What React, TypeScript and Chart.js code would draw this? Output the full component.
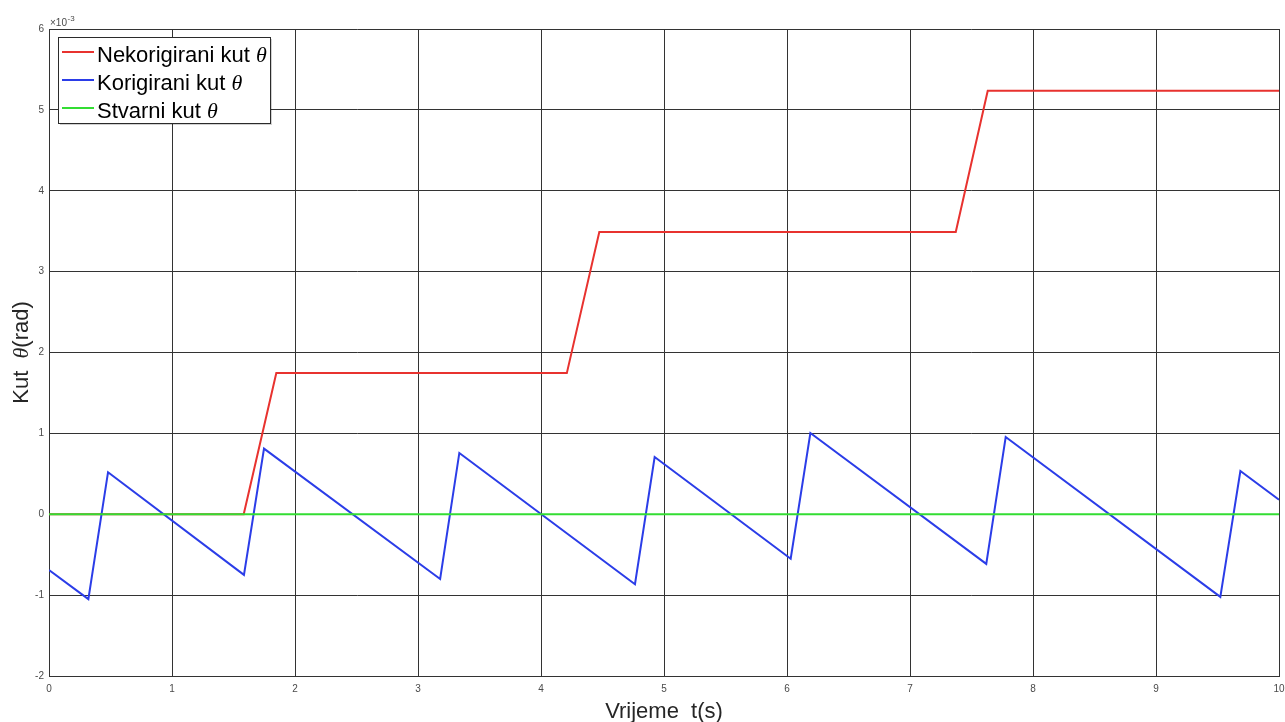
import React, { useEffect, useRef } from 'react';
import { Chart, registerables } from 'chart.js';

Chart.register(...registerables);

// Values in units of 10^-3 rad
const redT = [0, 1.583, 1.848, 4.21, 4.474, 7.372, 7.632, 10];
const redV = [0, 0, 1.745, 1.745, 3.49, 3.49, 5.236, 5.236];
const blueT = [0, 0.32, 0.48, 1.585, 1.748, 3.18, 3.336, 4.764, 4.924, 6.03, 6.19, 7.62, 7.778, 9.523, 9.686, 10];
const blueV = [-0.69, -1.05, 0.52, -0.75, 0.812, -0.8, 0.758, -0.865, 0.708, -0.55, 1.005, -0.614, 0.955, -1.022, 0.535, 0.18];
const greenT = [0, 10];
const greenV = [0, 0];

const xTicks = [0, 1, 2, 3, 4, 5, 6, 7, 8, 9, 10];
const yTicks = [-2, -1, 0, 1, 2, 3, 4, 5, 6];

const seriesNames = ['Nekorigirani kut ', 'Korigirani kut ', 'Stvarni kut '];
const seriesColors = ['#e8322f', '#2b3de8', '#33dd33'];

const SANS = '"Liberation Sans", Arial, Helvetica, sans-serif';
const SERIF = '"Liberation Serif", "Times New Roman", serif';

const toPts = (t: number[], v: number[]) => t.map((x, i) => ({ x, y: v[i] }));

const decorPlugin = {
  id: 'decor',
  afterDraw(chart: any) {
    const ctx = chart.ctx as CanvasRenderingContext2D;
    const area = chart.chartArea;
    ctx.save();
    // exponent label
    ctx.fillStyle = '#4a4a4a';
    ctx.textBaseline = 'alphabetic';
    ctx.textAlign = 'left';
    ctx.font = `10px ${SANS}`;
    ctx.fillText('\u00d710', area.left + 1, area.top - 3);
    const w10 = ctx.measureText('\u00d710').width;
    ctx.font = `8px ${SANS}`;
    ctx.fillText('-3', area.left + 1 + w10 + 0.5, area.top - 8);

    // legend
    const lx = 58, ly = 37, lw = 212, lh = 86;
    ctx.fillStyle = 'rgba(0,0,0,0.18)';
    ctx.fillRect(lx + 2, ly + 2, lw, lh);
    ctx.fillStyle = '#ffffff';
    ctx.fillRect(lx, ly, lw, lh);
    ctx.strokeStyle = '#2b2b2b';
    ctx.lineWidth = 1;
    ctx.strokeRect(lx + 0.5, ly + 0.5, lw, lh);
    const lineYs = [52, 80, 108];
    seriesNames.forEach((name, i) => {
      const y = lineYs[i];
      ctx.strokeStyle = seriesColors[i];
      ctx.lineWidth = 2;
      ctx.beginPath();
      ctx.moveTo(62, y);
      ctx.lineTo(94, y);
      ctx.stroke();
      ctx.fillStyle = '#000000';
      ctx.font = `22px ${SANS}`;
      const base = y + 9.5;
      ctx.fillText(name, 97, base);
      const wn = ctx.measureText(name).width;
      ctx.font = `italic 22px ${SERIF}`;
      ctx.fillText('\u03b8', 97 + wn, base);
    });

    // x title
    ctx.fillStyle = '#262626';
    ctx.font = `22px ${SANS}`;
    ctx.textAlign = 'center';
    ctx.fillText('Vrijeme  t(s)', (area.left + area.right) / 2, 718);

    // y title
    ctx.translate(28, (area.top + area.bottom) / 2);
    ctx.rotate(-Math.PI / 2);
    ctx.textAlign = 'left';
    const p1 = 'Kut  ';
    const p2 = '\u03b8';
    const p3 = '(rad)';
    ctx.font = `22px ${SANS}`;
    const w1 = ctx.measureText(p1).width;
    const w3 = ctx.measureText(p3).width;
    ctx.font = `italic 22px ${SERIF}`;
    const w2 = ctx.measureText(p2).width;
    const total = w1 + w2 + w3;
    const x0 = -total / 2;
    ctx.font = `22px ${SANS}`;
    ctx.fillText(p1, x0, 0);
    ctx.font = `italic 22px ${SERIF}`;
    ctx.fillText(p2, x0 + w1, 0);
    ctx.font = `22px ${SANS}`;
    ctx.fillText(p3, x0 + w1 + w2, 0);
    ctx.restore();
  },
};

export default function App() {
  const ref = useRef<HTMLCanvasElement | null>(null);
  useEffect(() => {
    if (!ref.current) return;
    const chart = new Chart(ref.current, {
      type: 'line',
      data: {
        datasets: [
          {
            label: 'Stvarni kut θ',
            data: toPts(greenT, greenV),
            borderColor: seriesColors[2],
            borderWidth: 2,
            pointRadius: 0,
            order: 0,
          },
          {
            label: 'Korigirani kut θ',
            data: toPts(blueT, blueV),
            borderColor: seriesColors[1],
            borderWidth: 2,
            pointRadius: 0,
            order: 1,
          },
          {
            label: 'Nekorigirani kut θ',
            data: toPts(redT, redV),
            borderColor: seriesColors[0],
            borderWidth: 2,
            pointRadius: 0,
            order: 2,
          },
        ],
      },
      options: {
        animation: false,
        responsive: false,
        devicePixelRatio: 1,
        parsing: false as any,
        layout: { padding: { top: 29, right: 6, left: 0, bottom: 0 } },
        plugins: { legend: { display: false }, tooltip: { enabled: false } },
        scales: {
          x: {
            type: 'linear',
            min: 0,
            max: 10,
            afterFit: (s: any) => {
              s.height = 46;
              s.paddingLeft = 0;
              s.paddingRight = 0;
            },
            afterBuildTicks: (s: any) => { s.ticks = xTicks.map((v) => ({ value: v })); },
            grid: { color: '#333333', lineWidth: 1, drawTicks: false },
            border: { display: true, color: '#333333', width: 1 },
            ticks: {
              padding: 7,
              color: '#4a4a4a',
              font: { family: SANS, size: 10 },
              maxRotation: 0,
              autoSkip: false,
              callback: (v: any) => String(v),
            },
          },
          y: {
            type: 'linear',
            min: -2,
            max: 6,
            afterFit: (s: any) => {
              s.width = 49;
              s.paddingTop = 0;
              s.paddingBottom = 0;
            },
            afterBuildTicks: (s: any) => { s.ticks = yTicks.map((v) => ({ value: v })); },
            grid: { color: '#333333', lineWidth: 1, drawTicks: false },
            border: { display: true, color: '#333333', width: 1 },
            ticks: {
              padding: 5,
              color: '#4a4a4a',
              font: { family: SANS, size: 10 },
              autoSkip: false,
              callback: (v: any) => String(v),
            },
          },
        },
      } as any,
      plugins: [decorPlugin],
    });
    return () => chart.destroy();
  }, []);
  return (
    <div style={{ position: 'absolute', left: 0, top: 0, width: 1285, height: 722, background: '#ffffff' }}>
      <canvas ref={ref} width={1285} height={722} style={{ display: 'block' }} />
    </div>
  );
}
